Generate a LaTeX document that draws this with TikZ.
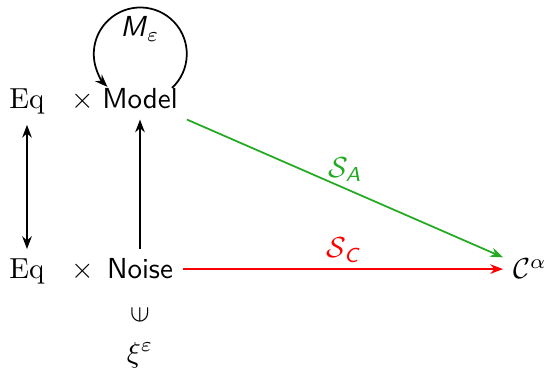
\documentclass[tikz,border=0pt]{standalone}
\usepackage{amsmath,amssymb}
\usepackage{xcolor}
\usepackage{tikz}
\usetikzlibrary{arrows.meta,positioning,calc}
\definecolor{cInk}{HTML}{000000}
\definecolor{cGreen}{HTML}{22AA22}
\definecolor{cRed}{HTML}{FF0000}
\tikzset{
  obj/.style={anchor=base,text=cInk},
  sobj/.style={obj,font=\sffamily},
  arr/.style={-{Stealth[length=4.4pt]},line width=0.6pt,color=#1},
  arr/.default=cInk,
  darr/.style={{Stealth[length=4.4pt]}-{Stealth[length=4.4pt]},line width=0.6pt,color=cInk},
  lbl/.style={text=#1,inner sep=2pt},
}

\begin{document}
\begin{tikzpicture}[x=0.345pt,y=0.345pt]
  \useasboundingbox (0,0) rectangle (552,-373);
  % top row
  \node[obj] (eqA) at (27,-109) {Eq};
  \node[obj] (tmA) at (83,-109) {$\times$};
  \node[sobj] (model) at (140,-109) {Model};
  % bottom row
  \node[obj] (eqB) at (27,-279) {Eq};
  \node[obj] (tmB) at (83,-279) {$\times$};
  \node[sobj] (noise) at (140,-279) {Noise};
  \node[obj] (calpha) at (530,-279) {$\mathcal{C}^{\alpha}$};
  % element below Noise
  \node (elem) at (140,-315) {\rotatebox{90}{$\in$}};
  \node (xi) at (140,-355) {$\xi^{\varepsilon}$};
  % self map on Model
  \coordinate (lpA) at ([shift={(32,21)}]model.base);
  \draw[arr] (lpA) arc[start angle=-47,end angle=225,radius=46.5];
  \node (meps) at (140,-29) {\textsf{\itshape M}$_{\varepsilon}$};
  % arrows
  \draw[darr] (eqA) -- (eqB);
  \draw[arr] (noise) -- (model);
  \draw[arr=cGreen] (model) -- (calpha)
    node[midway,above,lbl=cGreen] {$\mathcal{S}_{\textsf{\itshape A}}$};
  \draw[arr=cRed] (noise.east) -- (noise.east -| calpha.west)
    node[midway,above,lbl=cRed] {$\mathcal{S}_{\textsf{\itshape C}}$};
\end{tikzpicture}
\end{document}
